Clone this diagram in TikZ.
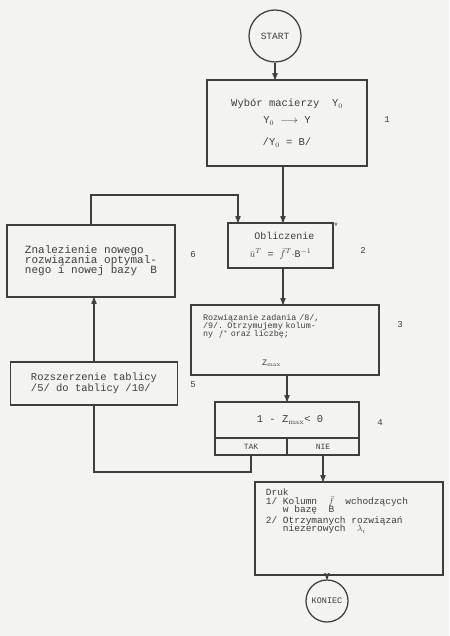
\documentclass[tikz,border=0pt]{standalone}
\usepackage{amsmath}
\usepackage{fontspec}
\setmonofont{Liberation Mono}
\usetikzlibrary{arrows,positioning,calc}
\definecolor{ink}{RGB}{62,62,62}
\definecolor{paper}{RGB}{243,243,241}
\lineskiplimit=-20pt
\lineskip=0pt

\begin{document}
\begin{tikzpicture}[->, >=stealth', line width=1.25pt, color=ink, x=1pt, y=-1pt]
	\tikzstyle{blok}=[draw, rectangle, inner sep=0pt, align=left, font=\ttfamily\fontsize{10.5}{11}\selectfont]
	\tikzstyle{term}=[draw, circle, inner sep=0pt, font=\ttfamily\fontsize{9.5}{10}\selectfont]
	\tikzstyle{nr}=[font=\ttfamily\fontsize{9}{10}\selectfont]
	\fill[paper,-] (0,0) rectangle (449,636);
	\useasboundingbox (0,0) rectangle (449,636);

	\node[term, minimum size=52] (start) at (275,36) {START};
	\node[blok, align=center, minimum width=160, minimum height=86] (b1) at (287,123)
		{Wybór macierzy \ Y$_0$\\[6pt] Y$_0$ $\longrightarrow$ Y\\[11pt] /Y$_0$ = B/};
	\node[blok, align=center, minimum width=105, minimum height=45, font=\ttfamily\fontsize{10}{11}\selectfont] (b2) at (280.5,245.5)
		{\hspace*{8pt}Obliczenie\\[7pt] $\bar{u}^{T}$ = $\bar{f}^{T}\cdot$B$^{-1}$};
	\node[blok, minimum width=188, minimum height=70, text width=164, font=\ttfamily\fontsize{8.4}{8}\selectfont] (b3) at (285,340)
		{Rozwiązanie zadania /8/,\\ /9/. Otrzymujemy kolum-\\ ny \ $f^{*}$ oraz liczbę;\\[21pt] \hspace*{59pt}Z$_{\max}$};
	\node[blok, minimum width=144, minimum height=36] (war) at (287,420) {\hspace*{6pt}1 - Z$_{\max}$< 0};
	\node[blok, minimum width=72, minimum height=17, font=\ttfamily\fontsize{8}{9}\selectfont] (tak) at (251,446.5) {TAK};
	\node[blok, minimum width=72, minimum height=17, font=\ttfamily\fontsize{8}{9}\selectfont] (nie) at (323,446.5) {NIE};
	\node[blok, minimum width=167, minimum height=43] (b5) at (94,383.5)
		{Rozszerzenie tablicy\\ /5/ do tablicy /10/};
	\node[blok, minimum width=168, minimum height=72, font=\ttfamily\fontsize{11}{10}\selectfont] (b6) at (91,261)
		{Znalezienie nowego\\ rozwiązania optymal-\\ nego i nowej bazy \ B};
	\node[blok, minimum width=188, minimum height=93, font=\ttfamily\fontsize{9.5}{8}\selectfont] (b7) at (349,528.5)
		{Druk\\[1pt] 1/ Kolumn \ $\bar{f}$ \ wchodzących\mbox{\hspace{24pt}}\\ \phantom{1/ }w bazę \ B\\[3pt] 2/ Otrzymanych rozwiązań\\ \phantom{2/ }niezerowych \ $\lambda_i$\\[28pt]\mbox{}};
	\node[term, minimum size=42, font=\ttfamily\fontsize{8.5}{9}\selectfont] (koniec) at (327,601) {KONIEC};

	\node[nr] (n1) at (387,120) {1};
	\node[nr] (n2) at (363,250) {2};
	\node[nr] (gw) at (336,226) {*};
	\node[nr] (n3) at (400,325) {3};
	\node[nr] (n4) at (380,423) {4};
	\node[nr] (n5) at (193,385) {5};
	\node[nr] (n6) at (193,255) {6};

	\coordinate (pion) at (283,0);
	\coordinate (petla) at (238,195);
	\coordinate (dol) at (0,472);
	\path
	(start) edge (start |- b1.north)
	(b1.south -| pion) edge (b2.north -| pion)
	(b2.south -| pion) edge (b3.north -| pion)
	(b3.south -| war) edge (war.north)
	(b5.north) edge (b5.north |- b6.south)
	(nie.south) edge (nie.south |- b7.north)
	(b7.south -| koniec) edge (koniec.north);
	\draw (b6.north) |- (petla) -- (petla |- b2.north);
	\draw[-] (tak.south) -- (tak.south |- dol) -| (b5.south);
\end{tikzpicture}
\end{document}
